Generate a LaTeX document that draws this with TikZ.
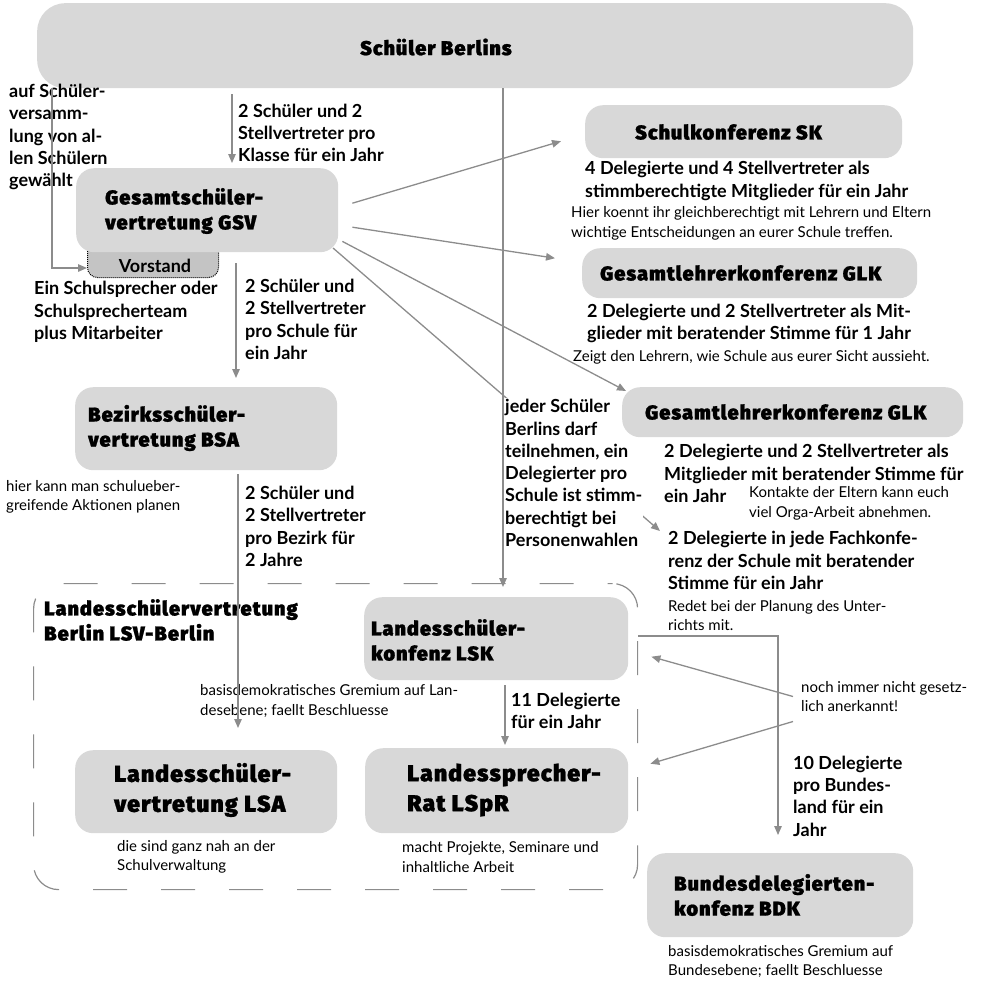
\documentclass[tikz,border=0pt]{standalone}
\usepackage{fontspec}
\setmainfont{Lato}
\IfFontExistsTF{Fira Sans Black}
  {\newfontfamily\headfam{Fira Sans Black}[LetterSpace=5,FakeBold=1]\newcommand\headfont{\headfam}}
  {\newfontfamily\headfam{Fira Sans}[LetterSpace=5]\newcommand\headfont{\headfam\bfseries}}
\usetikzlibrary{arrows.meta}
\definecolor{boxgray}{HTML}{D8D8D8}
\definecolor{tabgray}{HTML}{C4C4C4}
\definecolor{linegray}{HTML}{8C8C8C}
\newcommand\kopf{\headfont\fontsize{20}{25}\selectfont}
\newcommand\kopfgross{\headfont\fontsize{23}{30}\selectfont}
\newcommand\fett{\bfseries\fontsize{18}{22.3}\selectfont}
\newcommand\duenn{\fontsize{15}{19.5}\selectfont}
\tikzset{
  kasten/.style={fill=boxgray, draw=none, rounded corners=18pt, inner sep=0pt},
  reiter/.style={fill=tabgray, draw=black, densely dotted, line width=1pt, rounded corners=10pt, inner sep=0pt},
  rahmen/.style={draw=linegray, line width=1.2pt, rounded corners=25pt, dash pattern=on 34pt off 34pt, dash phase=29pt, inner sep=0pt},
  kopftext/.style={font=\kopf, align=left, inner sep=0pt, anchor=west},
  grosstext/.style={font=\kopfgross, align=left, inner sep=0pt, anchor=west},
  fetttext/.style={font=\fett, align=left, inner sep=0pt, anchor=west},
  duenntext/.style={font=\duenn, align=left, inner sep=0pt, anchor=west},
  linie/.style={draw=linegray, line width=1.3pt},
  pfeil/.style={linie, -{Triangle[length=9pt,width=7.5pt]}}
}

\begin{document}
\begin{tikzpicture}[x=1pt,y=-1pt]
		%%%%% START %%%%%
		\useasboundingbox (0,0) rectangle (982,980);
		
		% Rahmen der LSV
		\node[rahmen, minimum width=604, minimum height=306, anchor=north west] (lsv) at (33,583) {};
		
		% Pfeil zur Fachkonferenz, hinter dem Text
		\coordinate (gsvecke) at (338,252);
		\coordinate (fachspitze) at (660,531);
		\draw[pfeil] ([xshift=-5pt,yshift=4pt]gsvecke) -- (fachspitze);
		\node[fetttext, fill=white, inner sep=1pt] (jeder) at (504,473) {jeder Schüler\\Berlins darf\\teilnehmen, ein\\Delegierter pro\\Schule ist stimm-\\berechtigt bei\\Personenwahlen};
		
		% Kaesten
		\node[reiter, minimum width=131, minimum height=40, anchor=south west] (vorstand) at (87,278) {};
		\node[kasten, rounded corners=28pt, minimum width=876, minimum height=85, anchor=north west] (top) at (37,3) {};
		\node[kasten, minimum width=262, minimum height=84, anchor=north west] (gsv) at (76,168) {};
		\node[kasten, minimum width=262, minimum height=83, anchor=north west] (bsa) at (75,387) {};
		\node[kasten, minimum width=264, minimum height=83, anchor=north west] (lsk) at (364,597) {};
		\node[kasten, minimum width=262, minimum height=83, anchor=north west] (lsa) at (75,750) {};
		\node[kasten, minimum width=263, minimum height=85, anchor=north west] (lspr) at (365,748) {};
		\node[kasten, minimum width=266, minimum height=84, anchor=north west] (bdk) at (647,853) {};
		\node[kasten, minimum width=317, minimum height=53, anchor=north west] (sk) at (585,105) {};
		\node[kasten, minimum width=335, minimum height=50, anchor=north west] (glka) at (582,248) {};
		\node[kasten, minimum width=341, minimum height=50, anchor=north west] (glkb) at (622,387) {};
		
		% Titel in den Kaesten
		\node[kopftext] (topt) at (360,47) {Schüler Berlins};
		\node[kopftext] (gsvt) at (105,211) {Gesamtschüler-\\vertretung GSV};
		\node[fetttext, anchor=center] (vorstandt) at (155,266) {Vorstand};
		\node[kopftext] (bsat) at (88,428) {Bezirksschüler-\\vertretung BSA};
		\node[kopftext] (lsvt) at (44,620) {Landesschülervertretung\\Berlin LSV-Berlin};
		\node[kopftext] (lskt) at (371,640) {Landesschüler-\\konfenz LSK};
		\node[grosstext] (lsat) at (114,790) {Landesschüler-\\vertretung LSA};
		\node[grosstext] (lsprt) at (407,790) {Landessprecher-\\Rat LSpR};
		\node[kopftext] (bdkt) at (674,895) {Bundesdelegierten-\\konfenz BDK};
		\node[kopftext] (skt) at (635,132) {Schulkonferenz SK};
		\node[kopftext] (glkat) at (600,273) {Gesamtlehrerkonferenz GLK};
		\node[kopftext] (glkbt) at (645,412) {Gesamtlehrerkonferenz GLK};
		
		% Pfeile von der GSV nach rechts
		\draw[pfeil] ([xshift=14pt,yshift=7pt]gsv.east) -- ([xshift=-24pt,yshift=-9.5pt]sk.west);
		\draw[pfeil] ([xshift=14pt,yshift=-17pt]gsv.east) -- ([xshift=-27pt,yshift=15pt]glka.west);
		\draw[pfeil] ([xshift=4pt,yshift=11pt]gsv.south east) -- ([xshift=4pt,yshift=-4pt]glkb.north west);
		
		% Beschriftungen
		\node[fetttext] (wahlt) at (9,137) {auf Schüler-\\versamm-\\lung von al-\\len Schülern\\gewählt};
		\node[fetttext] (teamt) at (34,312) {Ein Schulsprecher oder\\Schulsprecherteam\\plus Mitarbeiter};
		\node[fetttext] (klasset) at (238,133) {2 Schüler und 2\\Stellvertreter pro\\Klasse für ein Jahr};
		\node[fetttext] (schulet) at (245,319.5) {2 Schüler und\\2 Stellvertreter\\pro Schule für\\ein Jahr};
		\node[fetttext] (bezirkt) at (245,526.5) {2 Schüler und\\2 Stellvertreter\\pro Bezirk für\\2 Jahre};
		\node[fetttext] (elft) at (511,711) {11 Delegierte\\für ein Jahr};
		\node[fetttext] (zehnt) at (793,796) {10 Delegierte\\pro Bundes-\\land für ein\\Jahr};
		\node[fetttext] (skd) at (585,181) {4 Delegierte und 4 Stellvertreter als\\stimmberechtigte Mitglieder für ein Jahr};
		\node[fetttext] (glkad) at (587,323.5) {2 Delegierte und 2 Stellvertreter als Mit-\\glieder mit beratender Stimme für 1 Jahr};
		\node[fetttext] (glkbd) at (664,473.5) {2 Delegierte und 2 Stellvertreter als\\Mitglieder mit beratender Stimme für\\ein Jahr};
		\node[fetttext] (fach) at (668,560.5) {2 Delegierte in jede Fachkonfe-\\renz der Schule mit beratender\\Stimme für ein Jahr};
		
		\node[duenntext] (skn) at (571,223.5) {Hier koennt ihr gleichberechtigt mit Lehrern und Eltern\\wichtige Entscheidungen an eurer Schule treffen.};
		\node[duenntext] (glkan) at (573,357) {Zeigt den Lehrern, wie Schule aus eurer Sicht aussieht.};
		\node[duenntext] (glkbn) at (749,503.5) {Kontakte der Eltern kann euch\\viel Orga-Arbeit abnehmen.};
		\node[duenntext] (fachn) at (668,615.5) {Redet bei der Planung des Unter-\\richts mit.};
		\node[duenntext] (bsan) at (6,497) {hier kann man schulueber-\\greifende Aktionen planen};
		\node[duenntext] (lskn) at (200,701) {basisdemokratisches Gremium auf Lan-\\desebene; faellt Beschluesse};
		\node[duenntext] (noch) at (801,696.5) {noch immer nicht gesetz-\\lich anerkannt!};
		\node[duenntext] (lsan) at (117,857) {die sind ganz nah an der\\Schulverwaltung};
		\node[duenntext] (lsprn) at (402,857) {macht Projekte, Seminare und\\inhaltliche Arbeit};
		\node[duenntext] (bdkn) at (668,961.5) {basisdemokratisches Gremium auf\\Bundesebene; faellt Beschluesse};
		
		% senkrechte Pfeile
		\coordinate (xa) at (232,0);
		\coordinate (xb) at (236,0);
		\coordinate (xc) at (238,0);
		\coordinate (xd) at (503,0);
		\coordinate (xe) at (505,0);
		\coordinate (wahl) at (52,268);
		\coordinate (knick) at (778,636);
		\draw[pfeil, shorten <=6pt, shorten >=5pt] (xa |- top.south) -- (xa |- gsv.north);
		\draw[pfeil, shorten <=11pt, shorten >=9pt] (xb |- gsv.south) -- (xb |- bsa.north);
		\draw[pfeil, shorten <=4pt, shorten >=22pt] (xc |- bsa.south) -- (xc |- lsa.north);
		\draw[pfeil, shorten >=10pt] (xd |- top.south) -- (xd |- lsk.north);
		\draw[pfeil, shorten <=5pt, shorten >=3pt] (xe |- lsk.south) -- (xe |- lspr.north);
		\draw[pfeil] (wahl |- top.south) |- (vorstand.west |- wahl);
		\draw[pfeil, shorten >=18pt] (lsv.east |- knick) -- (knick) -- (knick |- bdk.north);
		
		% gesetzlich nicht anerkannt
		\draw[pfeil] ([xshift=-8pt]noch.west) -- ([xshift=23pt,yshift=-18pt]lsk.east);
		\draw[pfeil] ([xshift=-8pt,yshift=-25pt]noch.west) -- ([xshift=22pt,yshift=27pt]lspr.east);
		
		%%%%% END %%%%%
	\end{tikzpicture}
\end{document}
